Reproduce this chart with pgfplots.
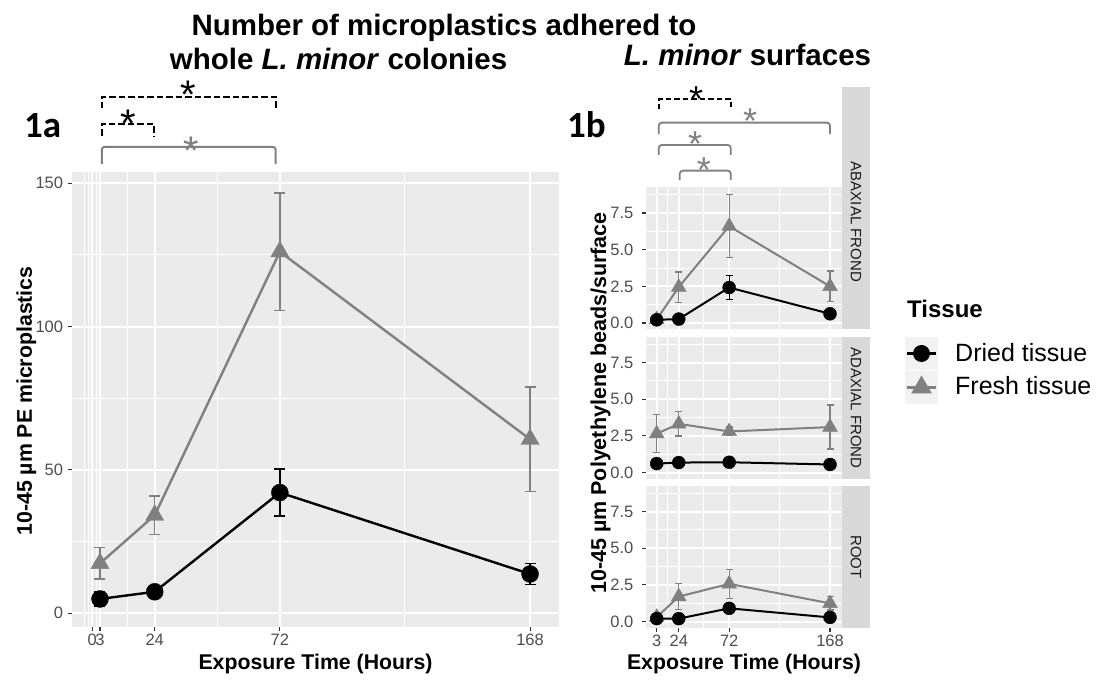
\documentclass[border=0pt]{standalone}
\usepackage{fontspec}
\setmainfont{Liberation Sans}
\newfontfamily\calibri{Carlito}
\usepackage{pgfplots}
\usepackage{pgfplotstable}
\pgfplotsset{compat=1.18}
\definecolor{panelbg}{HTML}{EBEBEB}
\definecolor{stripbg}{HTML}{D9D9D9}
\definecolor{tickcol}{HTML}{4D4D4D}
\definecolor{tickmk}{HTML}{333333}
\definecolor{fresh}{HTML}{808080}
\definecolor{keybg}{HTML}{F2F2F2}
\definecolor{striptext}{HTML}{1A1A1A}
\newcommand\fs[1]{\fontsize{#1pt}{#1pt}\selectfont}
\newcommand\sigstar{\raisebox{-0.42em}[0.3em][0pt]{*}}

% ---- data: x = hours, y = mean, e = error ----
\pgfplotstableread{
x y e
3 5.0 2.5
24 7.5 1.4
72 42.1 8.2
168 13.7 3.7
}\Adried
\pgfplotstableread{
x y e
3 17.4 5.5
24 34.2 6.7
72 126.1 20.5
168 60.7 18.2
}\Afresh
\pgfplotstableread{
x y e
3 0.22 0.08
24 0.27 0.10
72 2.42 0.80
168 0.63 0.10
}\ABdried
\pgfplotstableread{
x y e
3 0.25 0.10
24 2.45 1.03
72 6.60 2.15
168 2.50 1.05
}\ABfresh
\pgfplotstableread{
x y e
3 0.61 0.10
24 0.68 0.10
72 0.70 0.10
168 0.55 0.10
}\ADdried
\pgfplotstableread{
x y e
3 2.65 1.30
24 3.32 0.83
72 2.80 0.30
168 3.10 1.50
}\ADfresh
\pgfplotstableread{
x y e
3 0.20 0.05
24 0.20 0.05
72 0.90 0.20
168 0.28 0.10
}\RTdried
\pgfplotstableread{
x y e
3 0.30 0.15
24 1.70 0.90
72 2.57 1.00
168 1.24 0.45
}\RTfresh

\pgfplotsset{
  gg/.style={
    scale only axis, anchor=south west, clip=false,
    axis background/.style={fill=panelbg},
    axis line style={draw=none},
    tick align=outside, major tick length=4pt, minor tick length=0pt,
    tick style={draw=tickmk, line width=1.1pt},
    xtick pos=lower, ytick pos=left,
    grid=both,
    major grid style={white, line width=2pt},
    minor grid style={white, line width=1pt},
    ticklabel style={font=\fs{16.5}, text=tickcol, inner sep=0pt},
    /pgf/number format/assume math mode=true,
    xticklabel style={anchor=north, yshift=-3pt},
    yticklabel style={anchor=east, xshift=-4.7pt},
  },
  % 1b panels
  gb/.style={
    gg, width=196pt, height=142pt,
    xmin=-7.19, xmax=179.4, ymin=-0.44, ymax=9.24,
    xtick={3,24,72,168}, minor xtick={13.5,48,120},
    ytick={0,2.5,5,7.5}, yticklabels={0.0,2.5,5.0,7.5},
    minor ytick={1.25,3.75,6.25,8.75},
    yticklabel style={xshift=-3.7pt},
  },
  noxlab/.style={xticklabels={}, xtick style={draw=none}},
  linesA/.style={mark=none, line width=2.4pt,
    error bars/.cd, y dir=both, y explicit,
    error bar style={line width=1.5pt},
    error mark options={rotate=90, line width=1.5pt, mark size=5.5pt}},
  linesB/.style={mark=none, line width=2pt,
    error bars/.cd, y dir=both, y explicit,
    error bar style={line width=1.2pt},
    error mark options={rotate=90, line width=1.2pt, mark size=3.5pt}},
}

\newcommand\panelB[2]{%
  \addplot[fresh, linesB] table[x=x, y=y, y error=e] {#2};
  \addplot[black, linesB] table[x=x, y=y, y error=e] {#1};
  \addplot[only marks, mark=triangle*, mark size=8.5pt, fresh, draw=fresh] table[x=x, y=y] {#2};
  \addplot[only marks, mark=*, mark size=6.5pt, black] table[x=x, y=y] {#1};
}

\begin{document}
\begin{tikzpicture}
\useasboundingbox (0pt,0pt) rectangle (1096pt,691pt);

% ===================== 1a =====================
\begin{axis}[gg, at={(72pt,64pt)}, width=487pt, height=455pt,
  xmin=-7.74, xmax=179.1, ymin=-4.78, ymax=153.9,
  xtick={0,3,24,72,168}, xticklabels={0,3,24,72,168},
  minor xtick={-3,-1.5,1.5,13.5,48,120},
  ytick={0,50,100,150}, minor ytick={25,75,125}]
  \addplot[fresh, linesA] table[x=x, y=y, y error=e] {\Afresh};
  \addplot[black, linesA] table[x=x, y=y, y error=e] {\Adried};
  \addplot[only marks, mark=triangle*, mark size=10.5pt, fresh, draw=fresh] table[x=x, y=y] {\Afresh};
  \addplot[only marks, mark=*, mark size=8.5pt, black] table[x=x, y=y] {\Adried};
  % significance brackets
  \draw[black, line width=2pt, dash pattern=on 6.5pt off 3pt] (3.7,176.2) -- (3.7,180.2) -- (70.4,180.2) -- (70.4,176.2);
  \draw[black, line width=2pt, dash pattern=on 6.5pt off 3pt] (3.7,166.5) -- (3.7,170.7) -- (23.7,170.7) -- (23.7,166.5);
  \draw[fresh, line width=2pt, rounded corners=3pt] (3.7,156.7) -- (3.7,162.7) -- (70.4,162.7) -- (70.4,156.7);
  \node[anchor=north, inner sep=0pt, font=\fs{40}] at (36.8,186) {\sigstar};
  \node[anchor=north, inner sep=0pt, font=\fs{40}] at (13.7,176.2) {\sigstar};
  \node[anchor=north, inner sep=0pt, font=\fs{40}, text=fresh] at (38,166.8) {\sigstar};
\end{axis}

% ===================== 1b =====================
\begin{axis}[gb, noxlab, at={(646pt,361.5pt)}]
  \panelB{\ABdried}{\ABfresh}
  \draw[black, line width=1.8pt, dash pattern=on 5.5pt off 3pt] (5,14.57) -- (5,15.27) -- (73.5,15.27) -- (73.5,14.57);
  \draw[fresh, line width=1.8pt, rounded corners=3pt] (5,12.87) -- (5,13.66) -- (168,13.66) -- (168,12.87);
  \draw[fresh, line width=1.8pt, rounded corners=3pt] (5,11.46) -- (5,12.14) -- (73.5,12.14) -- (73.5,11.46);
  \draw[fresh, line width=1.8pt, rounded corners=3pt] (25,9.75) -- (25,10.39) -- (73.5,10.39) -- (73.5,9.75);
  \node[anchor=north, inner sep=0pt, font=\fs{36}] at (40.5,16.23) {\sigstar};
  \node[anchor=north, inner sep=0pt, font=\fs{36}, text=fresh] at (92,14.71) {\sigstar};
  \node[anchor=north, inner sep=0pt, font=\fs{36}, text=fresh] at (39.5,13.16) {\sigstar};
  \node[anchor=north, inner sep=0pt, font=\fs{36}, text=fresh] at (48,11.39) {\sigstar};
\end{axis}
\begin{axis}[gb, noxlab, at={(646pt,212pt)}]
  \panelB{\ADdried}{\ADfresh}
\end{axis}
\begin{axis}[gb, at={(646pt,63pt)}, xticklabels={3,24,72,168}]
  \panelB{\RTdried}{\RTfresh}
\end{axis}

% strips
\fill[stripbg] (842pt,361.5pt) rectangle (869.5pt,603.7pt);
\fill[stripbg] (842pt,212pt) rectangle (869.5pt,354pt);
\fill[stripbg] (842pt,63pt) rectangle (869.5pt,205pt);
\node[rotate=-90, font=\fs{15}, text=striptext] at (856pt,469pt) {ABAXIAL FROND};
\node[rotate=-90, font=\fs{15}, text=striptext] at (856pt,283pt) {ADAXIAL FROND};
\node[rotate=-90, font=\fs{15}, text=striptext] at (856pt,134pt) {ROOT};

% titles
\node[anchor=base, inner sep=0pt, font=\bfseries\fs{29.5}] at (444pt,655pt) {Number of microplastics adhered to};
\node[anchor=base, inner sep=0pt, font=\bfseries\fs{29.5}] at (338.5pt,621pt) {whole \textit{L. minor} colonies};
\node[anchor=base, inner sep=0pt, font=\bfseries\fs{29.5}] at (747.5pt,625pt) {\textit{L. minor} surfaces};
\node[anchor=base west, inner sep=0pt, font=\calibri\bfseries\fs{37}] at (24pt,553.5pt) {1a};
\node[anchor=base west, inner sep=0pt, font=\calibri\bfseries\fs{37}] at (567pt,553pt) {1b};

% axis titles
\node[anchor=base, inner sep=0pt, font=\bfseries\fs{21.3}] at (315.5pt,21pt) {Exposure Time (Hours)};
\node[anchor=base, inner sep=0pt, font=\bfseries\fs{21.3}] at (744pt,21pt) {Exposure Time (Hours)};
\node[anchor=base, inner sep=0pt, rotate=90, font=\bfseries\fs{21.3}] at (32pt,290pt) {10-45 µm PE microplastics};
\node[anchor=base, inner sep=0pt, rotate=90, font=\bfseries\fs{21.5}] at (606pt,288pt) {10-45 µm Polyethylene beads/surface};

% legend
\node[anchor=base west, inner sep=0pt, font=\bfseries\fs{24}] at (907pt,373pt) {Tissue};
\fill[keybg] (905pt,321pt) rectangle (938pt,354pt);
\fill[keybg] (905pt,287pt) rectangle (938pt,320pt);
\draw[black, line width=2.4pt] (907pt,337.5pt) -- (936pt,337.5pt);
\fill[black] (921.5pt,337.5pt) circle (8.5pt);
\draw[fresh, line width=2.4pt] (907pt,303.5pt) -- (936pt,303.5pt);
\fill[fresh] (921.5pt,315.5pt) -- (911.1pt,297.5pt) -- (931.9pt,297.5pt) -- cycle;
\node[anchor=base west, inner sep=0pt, font=\fs{25}] at (955pt,329.3pt) {Dried tissue};
\node[anchor=base west, inner sep=0pt, font=\fs{25}] at (955pt,296pt) {Fresh tissue};
\end{tikzpicture}
\end{document}
